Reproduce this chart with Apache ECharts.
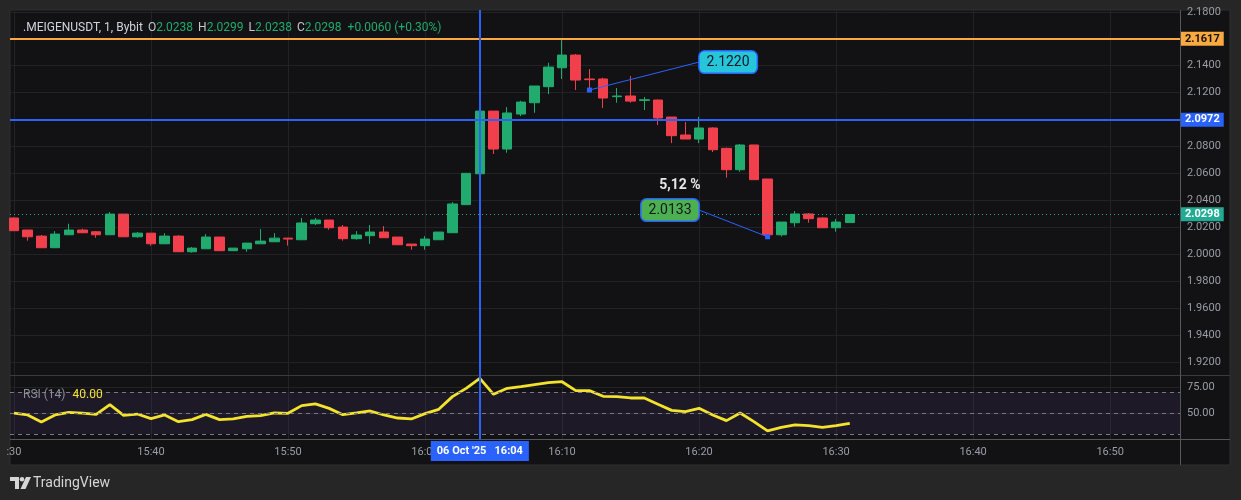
<!DOCTYPE html>
<html><head><meta charset="utf-8">
<script src="https://cdn.jsdelivr.net/npm/echarts@6/dist/echarts.min.js"></script>
<style>html,body{margin:0;padding:0;background:#262626}#c{width:1241px;height:500px}</style>
</head><body><div id="c"></div>
<script>
// ---- data ----
const times = ['15:30','15:31','15:32','15:33','15:34','15:35','15:36','15:37','15:38','15:39',
  '15:40','15:41','15:42','15:43','15:44','15:45','15:46','15:47','15:48','15:49',
  '15:50','15:51','15:52','15:53','15:54','15:55','15:56','15:57','15:58','15:59',
  '16:00','16:01','16:02','16:03','16:04','16:05','16:06','16:07','16:08','16:09',
  '16:10','16:11','16:12','16:13','16:14','16:15','16:16','16:17','16:18','16:19',
  '16:20','16:21','16:22','16:23','16:24','16:25','16:26','16:27','16:28','16:29',
  '16:30','16:31'];
const opens = [2.0272,2.0183,2.0138,2.0052,2.0148,2.0183,2.0170,2.0148,2.0301,2.0133,
  2.0160,2.0081,2.0138,2.0022,2.0044,2.0131,2.0030,2.0044,2.0081,2.0096,
  2.0123,2.0111,2.0230,2.0257,2.0205,2.0119,2.0141,2.0168,2.0131,2.0079,
  2.0067,2.0111,2.0163,2.0371,2.0600,2.1064,2.0783,2.1042,2.1126,2.1245,
  2.1385,2.1479,2.1302,2.1302,2.1171,2.1176,2.1143,2.1146,2.1020,2.0887,
  2.0857,2.0939,2.0788,2.0630,2.0813,2.0561,2.0148,2.0237,2.0302,2.0272,
  2.0200,2.0238];
const highs = [2.0277,2.0183,2.0146,2.0175,2.0230,2.0193,2.0175,2.0316,2.0301,2.0168,
  2.0160,2.0160,2.0146,2.0057,2.0153,2.0131,2.0049,2.0086,2.0190,2.0160,
  2.0125,2.0272,2.0272,2.0257,2.0220,2.0175,2.0220,2.0212,2.0131,2.0079,
  2.0138,2.0168,2.0390,2.0603,2.1080,2.1064,2.1094,2.1141,2.1250,2.1422,
  2.1590,2.1487,2.1375,2.1311,2.1235,2.1324,2.1168,2.1151,2.1020,2.0983,
  2.1022,2.0944,2.0793,2.0820,2.0813,2.0561,2.0242,2.0324,2.0309,2.0277,
  2.0264,2.0299];
const lows = [2.0178,2.0104,2.0052,2.0052,2.0148,2.0160,2.0126,2.0148,2.0133,2.0126,
  2.0067,2.0081,2.0022,2.0015,2.0044,2.0030,2.0030,2.0022,2.0081,2.0096,
  2.0067,2.0111,2.0220,2.0185,2.0104,2.0111,2.0081,2.0126,2.0074,2.0037,
  2.0037,2.0111,2.0163,2.0371,2.0600,2.0746,2.0756,2.1027,2.1052,2.1190,
  2.1302,2.1220,2.1220,2.1087,2.1126,2.1126,2.1072,2.0961,2.0827,2.0857,
  2.0827,2.0761,2.0571,2.0615,2.0556,2.0133,2.0135,2.0208,2.0237,2.0200,
  2.0171,2.0238];
const closes = [2.0178,2.0133,2.0052,2.0153,2.0183,2.0163,2.0148,2.0301,2.0133,2.0160,
  2.0081,2.0138,2.0022,2.0049,2.0131,2.0030,2.0049,2.0086,2.0101,2.0123,
  2.0116,2.0235,2.0257,2.0200,2.0119,2.0146,2.0168,2.0126,2.0074,2.0067,
  2.0116,2.0168,2.0376,2.0603,2.1064,2.0783,2.1050,2.1131,2.1250,2.1390,
  2.1479,2.1294,2.1297,2.1161,2.1176,2.1138,2.1148,2.1013,2.0882,2.0857,
  2.0939,2.0778,2.0630,2.0813,2.0556,2.0148,2.0242,2.0302,2.0267,2.0200,
  2.0242,2.0298];
const rsi = [49.8,48.1,41.4,48.1,50.6,49.8,48.7,57.9,47.8,49.0,
  44.6,48.1,41.7,43.7,48.7,43.7,44.3,46.8,47.5,50.0,
  49.7,57.0,58.6,54.4,48.4,50.0,51.9,48.1,45.2,44.3,
  49.4,53.5,65.6,73.5,83.0,67.8,73.5,75.1,77.0,78.9,
  79.8,71.3,71.3,65.9,65.6,64.3,64.3,58.3,52.5,51.3,
  54.4,48.1,42.7,50.0,41.7,32.9,36.3,38.6,37.9,36.3,
  37.9,40.0];
const priceTicks = [1.92,1.94,1.96,1.98,2.00,2.02,2.04,2.06,2.08,2.10,2.12,2.14,2.16,2.18];
const rsiTicks = [50, 75];
const rsiLevels = [70, 50, 30];
const timeTickIdx = [0,10,20,30,40,50,60,70,80];
const timeTickLabels = [':30','15:40','15:50','16:00','16:10','16:20','16:30','16:40','16:50'];
const hLevelPrices = [2.1617, 2.0972, 2.0298];
const crossIdx = 34;
const crossLabel = "06 Oct '25   16:04";
const noteHighPoint = [42, 2.1220];
const noteHighAnchor = [50, 2.1427];
const noteLowPoint = [55, 2.0133];
const noteLowAnchor = [50, 2.0331];
const pctLabel = '5,12 %';
const pctPos = [48.6, 2.0516];
const symbolText = '.MEIGENUSDT, 1, Bybit';
const changeText = '+0.0060 (+0.30%)';

// ---- style ----
const UP = '#22ab6e', DOWN = '#f23f4c', ORANGE = '#f9a940', BLUE = '#2962ff', TEAL = '#22ab94';
const GRID = '#222227', TXT = '#9a9da6', FONT = 'Roboto';
const X_MIN = -0.29, X_MAX = 85.1;

const last = opens.length - 1;
const candleData = times.map((t, i) => [i, opens[i], closes[i], lows[i], highs[i]]);
const rsiData = rsi.map((v, i) => [i, v]);

const hColors = [ORANGE, BLUE, TEAL];
const hText = ['#111', '#fff', '#fff'];
const hLines = hLevelPrices.map((p, k) => ({
  yAxis: p,
  lineStyle: {color: hColors[k], width: k === 2 ? 1 : 2, type: k === 2 ? [1, 3] : 'solid'},
  label: {show: true, position: 'end', distance: 1, formatter: p.toFixed(4), backgroundColor: hColors[k],
    color: hText[k], fontFamily: FONT, fontSize: 11, fontWeight: 'bold', padding: [2, 4, 1, 4]}
}));

const chart = echarts.init(document.getElementById('c'), null, {renderer: 'canvas'});
chart.setOption({
  backgroundColor: '#262626',
  animation: false,
  textStyle: {fontFamily: FONT},
  title: [
    {left: 18, top: 17, text: `{s|${symbolText}}{k|O}{v|${opens[last].toFixed(4)}}{k|H}{v|${highs[last].toFixed(4)}}{k|L}{v|${lows[last].toFixed(4)}}{k|C}{v|${closes[last].toFixed(4)}}{c|${changeText}}`,
      textStyle: {fontWeight: 'normal', rich: {
        s: {color: '#d1d4dc', fontSize: 12, fontWeight: 'normal', fontFamily: FONT},
        k: {color: '#c5c8d0', fontSize: 12, fontWeight: 'normal', fontFamily: FONT, padding: [0, 0, 0, 5]},
        v: {color: '#22ab6e', fontSize: 12, fontWeight: 'normal', fontFamily: FONT},
        c: {color: '#22ab6e', fontSize: 12, fontWeight: 'normal', fontFamily: FONT, padding: [0, 0, 0, 6]}
      }}},
    {left: 18, top: 384, text: `{a|RSI (14)}{b|${rsi[last].toFixed(2)}}`,
      textStyle: {fontWeight: 'normal', rich: {
        a: {color: '#8b8e96', fontSize: 12, fontWeight: 'normal', fontFamily: FONT},
        b: {color: '#f3e22e', fontSize: 12, fontWeight: 'normal', fontFamily: FONT, padding: [0, 0, 0, 7]}
      }}}
  ],
  grid: [
    {left: 10, top: 10, width: 1170, height: 365},
    {left: 10, top: 375, width: 1170, height: 64}
  ],
  xAxis: [
    {type: 'value', gridIndex: 0, min: X_MIN, max: X_MAX,
      axisLine: {show: false}, axisLabel: {show: false},
      axisTick: {show: false, customValues: timeTickIdx},
      splitLine: {show: true, lineStyle: {color: GRID, width: 1}}},
    {type: 'value', gridIndex: 1, min: X_MIN, max: X_MAX,
      axisLine: {show: false},
      axisTick: {show: false, customValues: timeTickIdx},
      axisLabel: {show: true, customValues: timeTickIdx, color: TXT, fontSize: 11, margin: 8, fontFamily: FONT,
        formatter: v => timeTickLabels[timeTickIdx.indexOf(v)]},
      splitLine: {show: true, lineStyle: {color: GRID, width: 1}}}
  ],
  yAxis: [
    {type: 'value', gridIndex: 0, position: 'right', min: 1.9109, max: 2.1813, scale: true,
      axisLine: {show: false},
      axisTick: {show: false, customValues: priceTicks},
      axisLabel: {show: true, customValues: priceTicks, color: TXT, fontSize: 11, margin: 7, fontFamily: FONT,
        formatter: v => v.toFixed(4)},
      splitLine: {show: true, lineStyle: {color: GRID, width: 1}}},
    {type: 'value', gridIndex: 1, position: 'right', min: 25.2, max: 86.2,
      axisLine: {show: false},
      axisTick: {show: false, customValues: rsiTicks},
      axisLabel: {show: true, customValues: rsiTicks, color: TXT, fontSize: 11, margin: 7, fontFamily: FONT,
        formatter: v => v.toFixed(2)},
      splitLine: {show: true, lineStyle: {color: GRID, width: 1}}}
  ],
  series: [
    {type: 'candlestick', xAxisIndex: 0, yAxisIndex: 0, data: candleData,
      encode: {x: 0, y: [1, 2, 3, 4]}, barWidth: 10,
      itemStyle: {color: UP, color0: DOWN, borderColor: UP, borderColor0: DOWN, borderWidth: 1},
      markLine: {silent: true, symbol: ['none', 'none'], label: {show: false},
        data: [
          ...hLines,
          {xAxis: crossIdx, lineStyle: {color: BLUE, width: 2, type: 'solid'}, label: {show: false}},
          [{coord: noteHighPoint, lineStyle: {color: BLUE, width: 1, type: 'solid'}, label: {show: false}}, {coord: noteHighAnchor}],
          [{coord: noteLowAnchor, lineStyle: {color: BLUE, width: 1, type: 'solid'}, label: {show: false}}, {coord: noteLowPoint}]
        ]},
      markPoint: {silent: true,
        data: [
          {coord: noteHighPoint, symbol: 'rect', symbolSize: 5, itemStyle: {color: BLUE}, label: {show: false}},
          {coord: noteLowPoint, symbol: 'rect', symbolSize: 5, itemStyle: {color: BLUE}, label: {show: false}},
          {coord: noteHighAnchor, symbol: 'rect', symbolSize: 1, itemStyle: {color: 'rgba(0,0,0,0)'},
            label: {show: true, position: 'right', distance: 0, formatter: noteHighPoint[1].toFixed(4),
              backgroundColor: '#27c5da', borderColor: BLUE, borderWidth: 1.5, borderRadius: 5,
              color: '#131722', fontSize: 14, fontFamily: FONT, padding: [4, 7, 3, 7]}},
          {coord: noteLowAnchor, symbol: 'rect', symbolSize: 1, itemStyle: {color: 'rgba(0,0,0,0)'},
            label: {show: true, position: 'left', distance: 0, formatter: noteLowPoint[1].toFixed(4),
              backgroundColor: '#4caf50', borderColor: BLUE, borderWidth: 1.5, borderRadius: 5,
              color: '#131722', fontSize: 14, fontFamily: FONT, padding: [4, 7, 3, 7]}},
          {coord: pctPos, symbol: 'rect', symbolSize: 1, itemStyle: {color: 'rgba(0,0,0,0)'},
            label: {show: true, position: 'inside', formatter: pctLabel, color: '#e6e6e6',
              fontSize: 14, fontWeight: 'bold', fontFamily: FONT}}
        ]}
    },
    {type: 'line', xAxisIndex: 1, yAxisIndex: 1, data: rsiData, showSymbol: false, symbol: 'none',
      lineStyle: {color: '#f3e22e', width: 2.8}, z: 3,
      markArea: {silent: true, itemStyle: {color: 'rgba(126,87,194,0.10)'},
        data: [[{yAxis: rsiLevels[2]}, {yAxis: rsiLevels[0]}]]},
      markLine: {silent: true, symbol: ['none', 'none'], label: {show: false},
        data: [
          ...rsiLevels.map(v => ({yAxis: v, lineStyle: {color: '#787b86', width: 1, type: [4, 4]}})),
          {xAxis: crossIdx, lineStyle: {color: BLUE, width: 2, type: 'solid'},
            label: {show: true, position: 'start', distance: 2, formatter: crossLabel,
              backgroundColor: BLUE, color: '#fff', fontWeight: 'bold', fontSize: 11, fontFamily: FONT,
              padding: [5, 6, 4, 6]}}
        ]}
    }
  ],
  graphic: [
    {type: 'rect', z: -10, shape: {x: 10, y: 10, width: 1220, height: 455},
      style: {fill: '#121215', stroke: '#2e2e2e', lineWidth: 1}},
    {type: 'line', z: 1, shape: {x1: 10, y1: 375.5, x2: 1230, y2: 375.5}, style: {stroke: '#393a3f', lineWidth: 1}},
    {type: 'line', z: 1, shape: {x1: 10, y1: 439.5, x2: 1230, y2: 439.5}, style: {stroke: '#55565c', lineWidth: 1}},
    {type: 'line', z: 1, shape: {x1: 1180.5, y1: 10, x2: 1180.5, y2: 465}, style: {stroke: '#55565c', lineWidth: 1}},
    {type: 'group', left: 10, top: 476, children: [
      {type: 'polygon', shape: {points: [[0,0],[9,0],[9,12],[5,12],[5,4],[0,4]]}, style: {fill: '#d6d6d6'}},
      {type: 'circle', shape: {cx: 12, cy: 2.3, r: 2.3}, style: {fill: '#d6d6d6'}},
      {type: 'polygon', shape: {points: [[16,0],[21,0],[15.5,12],[10.5,12]]}, style: {fill: '#d6d6d6'}},
      {type: 'text', style: {x: 23, y: 6, text: 'TradingView', fill: '#d6d6d6', font: '14px Roboto', textVerticalAlign: 'middle', verticalAlign: 'middle'}}
    ]}
  ]
});
</script></body></html>
